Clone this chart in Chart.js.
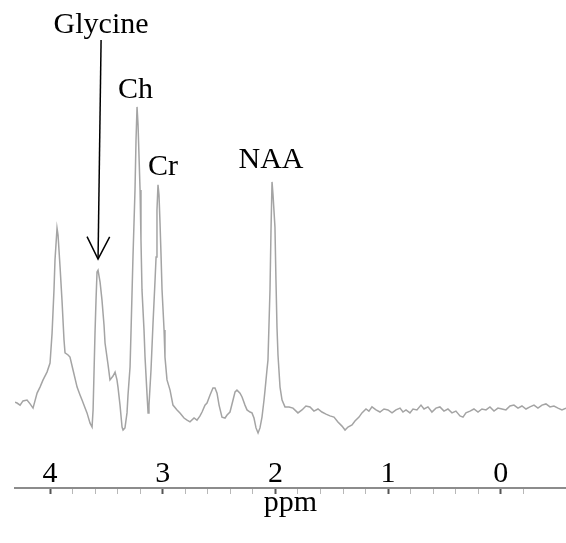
<!DOCTYPE html>
<html>
<head>
<meta charset="utf-8">
<script src="https://cdn.jsdelivr.net/npm/chart.js@4"></script>
<style>
  html, body { margin: 0; padding: 0; background: #fff; }
</style>
</head>
<body>
<canvas id="spectrum" width="566" height="543"></canvas>
<script>
// chemical shift (ppm) and signal amplitude (a.u.)
const ppm = [
  4.311, 4.293, 4.266, 4.240, 4.204, 4.177, 4.151, 4.115, 4.089, 4.062,
  4.027, 4.000, 3.982, 3.965, 3.956, 3.938, 3.929, 3.911, 3.894, 3.876,
  3.867, 3.840, 3.823, 3.796, 3.760, 3.734, 3.716, 3.689, 3.672, 3.645,
  3.627, 3.618, 3.601, 3.592, 3.583, 3.574, 3.556, 3.539, 3.521, 3.512,
  3.485, 3.468, 3.441, 3.423, 3.406, 3.397, 3.379, 3.361, 3.352, 3.335,
  3.317, 3.308, 3.290, 3.281, 3.264, 3.246, 3.237, 3.228, 3.219, 3.201,
  3.193, 3.184, 3.166, 3.157, 3.139, 3.130, 3.122, 3.104, 3.086, 3.068,
  3.059, 3.051, 3.042, 3.033, 3.024, 3.015, 3.006, 2.988, 2.980, 2.962,
  2.935, 2.909, 2.873, 2.847, 2.811, 2.784, 2.758, 2.722, 2.696, 2.669,
  2.651, 2.625, 2.607, 2.580, 2.554, 2.536, 2.518, 2.500, 2.474, 2.447,
  2.429, 2.403, 2.376, 2.358, 2.341, 2.314, 2.296, 2.270, 2.252, 2.225,
  2.208, 2.190, 2.172, 2.154, 2.137, 2.119, 2.101, 2.092, 2.075, 2.066,
  2.057, 2.048, 2.039, 2.030, 2.021, 2.004, 1.995, 1.986, 1.977, 1.959,
  1.941, 1.915, 1.879, 1.844, 1.800, 1.764, 1.729, 1.693, 1.658, 1.622,
  1.587, 1.551, 1.516, 1.480, 1.445, 1.409, 1.382, 1.356, 1.320, 1.294,
  1.258, 1.232, 1.196, 1.170, 1.143, 1.107, 1.072, 1.036, 1.001, 0.965,
  0.930, 0.894, 0.868, 0.841, 0.806, 0.779, 0.744, 0.708, 0.681, 0.646,
  0.611, 0.575, 0.540, 0.504, 0.469, 0.433, 0.398, 0.362, 0.335, 0.309,
  0.273, 0.238, 0.202, 0.167, 0.131, 0.096, 0.060, 0.025, -0.011, -0.046,
  -0.082, -0.117, -0.153, -0.188, -0.224, -0.259, -0.295, -0.330, -0.366, -0.401,
  -0.437, -0.472, -0.508, -0.543, -0.579
];
const signal = [
  3.3, 3.0, 2.3, 3.7, 4.0, 2.7, 1.3, 6.3, 8.3, 10.7,
  13.3, 16.3, 26.3, 40.7, 50.7, 61.3, 59.0, 48.3, 37.3, 24.0,
  19.7, 19.0, 18.3, 14.0, 8.3, 5.7, 4.0, 1.3, -0.3, -3.7,
  -5.0, 0.7, 26.3, 37.3, 46.7, 47.3, 43.3, 37.3, 29.0, 23.0,
  15.7, 10.7, 12.0, 13.3, 10.7, 8.3, 2.3, -5.0, -6.0, -5.3,
  -0.3, 5.7, 15.0, 27.3, 51.7, 74.0, 90.7, 101.7, 95.7, 74.0,
  57.3, 40.7, 27.3, 18.3, 5.7, -0.3, 2.3, 14.0, 29.7, 44.0,
  51.7, 67.3, 75.7, 72.3, 63.0, 52.3, 40.7, 27.3, 18.3, 10.7,
  7.3, 2.3, 0.7, -0.3, -2.0, -2.7, -3.3, -2.0, -2.7, -1.3,
  0.0, 2.3, 3.0, 5.7, 8.0, 8.0, 6.3, 2.3, -1.7, -2.0,
  -1.0, 0.0, 4.0, 6.7, 7.3, 6.3, 5.0, 2.3, 0.7, 0.0,
  -0.3, -2.0, -5.3, -7.0, -5.3, -1.7, 4.0, 7.3, 14.0, 17.3,
  29.0, 40.7, 60.7, 76.7, 72.3, 61.7, 44.0, 28.3, 19.0, 8.3,
  4.0, 1.7, 1.7, 1.3, -0.3, 0.7, 2.0, 1.7, 0.3, 1.0,
  0.0, -0.7, -1.3, -1.7, -3.3, -4.7, -6.0, -5.0, -4.3, -3.0,
  -1.7, -0.3, 1.0, 0.3, 1.7, 0.7, 0.0, 1.0, 0.7, -0.3,
  0.7, 1.3, 0.0, 0.7, -0.3, 1.0, 0.7, 2.3, 1.0, 1.7,
  0.0, 1.3, 1.7, 0.3, 1.0, -0.3, 0.3, -1.3, -1.7, -0.3,
  0.3, 1.0, 0.0, 1.0, 0.7, 1.7, 0.3, 1.3, 1.0, 0.7,
  2.0, 2.3, 1.3, 2.0, 1.0, 1.7, 2.3, 1.3, 2.3, 2.7,
  1.7, 2.0, 1.3, 0.7, 1.3
];
const majorTicks = [4, 3, 2, 1, 0];

// peak names, anchored at (ppm, amplitude) of their text baseline
const peakNames = ["Glycine", "Ch", "Cr", "NAA"];
const peakNamePpm = [3.547, 3.241, 2.997, 2.039];
const peakNameAmp = [126.3, 104.7, 79.0, 81.3];
const arrowFrom = [3.547, 124.0];
const arrowTo = [3.574, 51.0];

const serif = '"Liberation Serif", "Times New Roman", serif';
const isMajor = (v) => majorTicks.some((m) => Math.abs(v - m) < 1e-6);
const isMinor = (v) => Math.abs(v * 5 - Math.round(v * 5)) < 1e-6;

const peakText = {
  id: "peakText",
  afterDatasetsDraw(chart) {
    const { ctx, scales: { x, y } } = chart;
    ctx.save();
    ctx.fillStyle = "#000";
    ctx.font = "30px " + serif;
    ctx.textAlign = "center";
    ctx.textBaseline = "alphabetic";
    peakNames.forEach((name, i) => {
      ctx.fillText(name, x.getPixelForValue(peakNamePpm[i]), y.getPixelForValue(peakNameAmp[i]));
    });

    // arrow pointing at the glycine peak
    const x0 = x.getPixelForValue(arrowFrom[0]), y0 = y.getPixelForValue(arrowFrom[1]);
    const x1 = x.getPixelForValue(arrowTo[0]), y1 = y.getPixelForValue(arrowTo[1]);
    const ang = Math.atan2(y1 - y0, x1 - x0);
    const head = 25, spread = 0.47;
    ctx.strokeStyle = "#000";
    ctx.lineWidth = 1.5;
    ctx.beginPath();
    ctx.moveTo(x0, y0);
    ctx.lineTo(x1, y1);
    ctx.stroke();
    ctx.beginPath();
    ctx.moveTo(x1 - head * Math.cos(ang - spread), y1 - head * Math.sin(ang - spread));
    ctx.lineTo(x1, y1);
    ctx.lineTo(x1 - head * Math.cos(ang + spread), y1 - head * Math.sin(ang + spread));
    ctx.stroke();
    ctx.restore();
  },
};

new Chart(document.getElementById("spectrum"), {
  type: "line",
  data: {
    datasets: [
      {
        data: ppm.map((p, i) => ({ x: p, y: signal[i] })),
        borderColor: "#a4a4a4",
        borderWidth: 1.5,
        pointRadius: 0,
        tension: 0,
        fill: false,
      },
    ],
  },
  options: {
    responsive: false,
    animation: false,
    layout: { padding: { left: 15, right: 0, top: 10, bottom: 0 } },
    scales: {
      x: {
        type: "linear",
        reverse: true,
        min: -0.579,
        max: 4.311,
        border: { display: true, color: "#8c8c8c", width: 2 },
        grid: {
          drawOnChartArea: false,
          drawTicks: true,
          tickLength: 6,
          tickColor: (c) => {
            if (!c.tick || !isMinor(c.tick.value)) return "rgba(0,0,0,0)";
            return isMajor(c.tick.value) ? "#555" : "#b8b8b8";
          },
          tickWidth: (c) => (c.tick && isMajor(c.tick.value) ? 2 : 1),
        },
        ticks: {
          stepSize: 0.2,
          autoSkip: false,
          maxRotation: 0,
          mirror: true,
          padding: -4,
          color: "#000",
          font: { family: serif, size: 30 },
          callback: (v) => (isMajor(v) ? String(Math.round(v)) : ""),
        },
        title: {
          display: true,
          text: "ppm",
          color: "#000",
          font: { family: serif, size: 30 },
          padding: { top: 0, bottom: 22 },
        },
        afterFit: (s) => {
          s.height = 55;
        },
      },
      y: {
        display: false,
        bounds: "data",
        min: -25.33,
        max: 134,
      },
    },
    plugins: {
      legend: { display: false },
      tooltip: { enabled: false },
    },
  },
  plugins: [peakText],
});
</script>
</body>
</html>
